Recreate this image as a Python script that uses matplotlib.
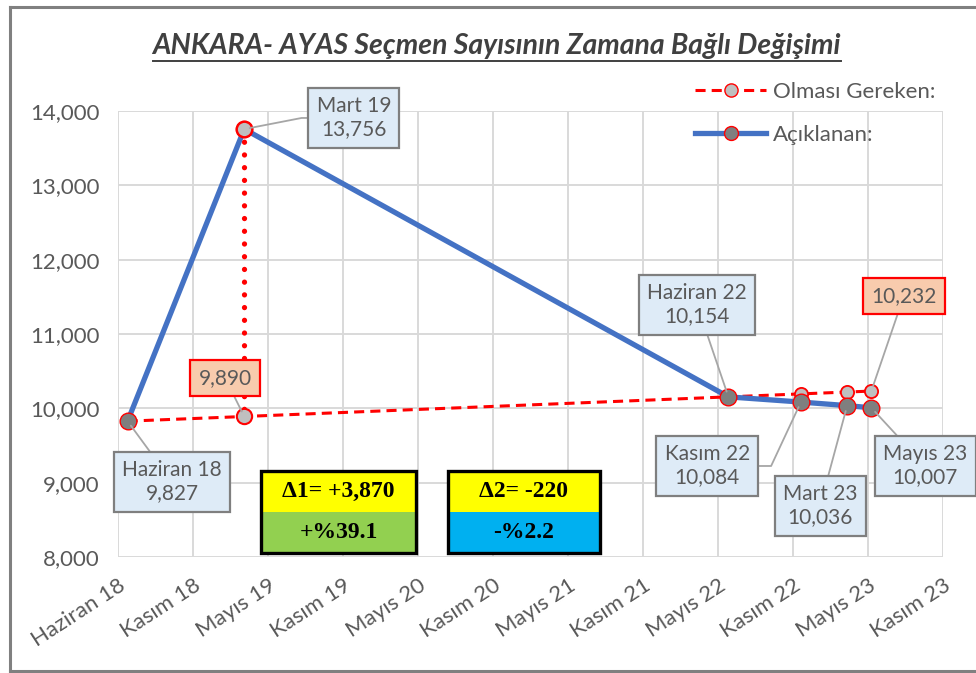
import datetime as dt

import matplotlib
matplotlib.use("Agg")
import matplotlib.dates as mdates
import matplotlib.pyplot as plt
from matplotlib.lines import Line2D
from matplotlib.patches import Rectangle

# ---- data -------------------------------------------------------------
dates = ["2018-06-24", "2019-03-31", "2022-06-05", "2022-11-26", "2023-03-17", "2023-05-14"]
point_names = ["Haziran 18", "Mart 19", "Haziran 22", "Kasım 22", "Mart 23", "Mayıs 23"]
announced = [9827, 13756, 10154, 10084, 10036, 10007]
expected = [9827, 9890, 10154, 10194, 10219, 10232]

tick_labels = ["Haziran 18", "Kasım 18", "Mayıs 19", "Kasım 19", "Mayıs 20", "Kasım 20",
               "Mayıs 21", "Kasım 21", "Mayıs 22", "Kasım 22", "Mayıs 23", "Kasım 23"]
y_ticks = [8000, 9000, 10000, 11000, 12000, 13000, 14000]

delta_top = ["Δ1= +3,870", "Δ2= -220"]
delta_bottom = ["+%39.1", "-%2.2"]

# ---- styling ----------------------------------------------------------
FONT = "Lato"
GREY_TXT = "#595959"
BLUE = "#4472C4"
RED = "#FF0000"
GRID = "#D9D9D9"

plt.rcParams["font.family"] = [FONT, "DejaVu Sans"]

axis_start = dt.date(2018, 6, 1)
x0 = mdates.date2num(axis_start)
xs = [mdates.date2num(dt.date.fromisoformat(d)) for d in dates]

fig = plt.figure(figsize=(9.76, 6.73), dpi=100)
ax = fig.add_axes([0.1209, 0.1724, 0.8453, 0.6627])

ax.set_xlim(x0, x0 + 180 * (len(tick_labels) - 1))
ax.set_ylim(y_ticks[0], y_ticks[-1])
ax.set_xticks([x0 + 180 * i for i in range(len(tick_labels))])
ax.set_xticklabels(tick_labels, rotation=33, ha="right", va="top",
                   rotation_mode="anchor", fontsize=16, color=GREY_TXT)
ax.set_yticks(y_ticks)
ax.set_yticklabels([f"{v:,}" for v in y_ticks], fontsize=16, color=GREY_TXT)
ax.tick_params(length=0)
ax.tick_params(axis="y", pad=13)
ax.tick_params(axis="x", pad=13)
ax.grid(True, color=GRID, linewidth=1.4, zorder=0)
ax.set_axisbelow(True)
for s in ax.spines.values():
    s.set_visible(False)

# expected (red dashed)
ax.plot(xs, expected, color=RED, linewidth=2.2, linestyle=(0, (3.3, 2.0)),
        marker="o", markersize=9.5, markerfacecolor="#BFBFBF",
        markeredgecolor=RED, markeredgewidth=1.3, zorder=3)
# announced (blue)
ax.plot(xs, announced, color=BLUE, linewidth=3.8, solid_capstyle="round",
        marker="o", markersize=12, markerfacecolor="#7F7F7F",
        markeredgecolor=RED, markeredgewidth=1.0, zorder=4)
# vertical gap at Mart 19
ax.plot([xs[1], xs[1]], [announced[1], expected[1]], color=RED, linewidth=3.8,
        linestyle=(0, (0.01, 2.4)), dash_capstyle="round",
        marker="o", markersize=11, markerfacecolor="#BFBFBF",
        markeredgecolor=RED, markeredgewidth=1.5, zorder=5)

# ---- callouts ---------------------------------------------------------
blue_box = dict(boxstyle="square,pad=0.4", fc="#DEEBF7", ec="#7F7F7F", lw=1.6)
red_box = dict(boxstyle="square,pad=0.4", fc="#F8CBAD", ec=RED, lw=1.6)

blue_pos = [(130, 9009), (566, 13906), (1390, 11390), (1414, 9224), (1685, 8686), (1937, 9224)]
# bent leaders for two of the callouts
bends = {1: ((0, 0.5), "angle,angleA=180,angleB=11,rad=0"),
         3: ((1, 0.5), "angle,angleA=0,angleB=245,rad=0")}
for i, (dx, yv) in enumerate(blue_pos):
    leader = dict(arrowstyle="-", color="#A6A6A6", lw=1.3, shrinkA=0, shrinkB=4)
    if i in bends:
        leader["relpos"], leader["connectionstyle"] = bends[i]
    ax.annotate(f"{point_names[i]}\n{announced[i]:,}", xy=(xs[i], announced[i]),
                xytext=(x0 + dx, yv), ha="center", va="center", fontsize=15,
                color=GREY_TXT, linespacing=1.2, bbox=blue_box,
                arrowprops=leader, annotation_clip=False, zorder=6)

red_pos = {1: (257, 10408), 5: (1886, 11511)}
for i, (dx, yv) in red_pos.items():
    leader = dict(arrowstyle="-", color="#A6A6A6", lw=1.3, shrinkA=0, shrinkB=4)
    ax.annotate(f"{expected[i]:,}", xy=(xs[i], expected[i]),
                xytext=(x0 + dx, yv), ha="center", va="center", fontsize=15,
                color=GREY_TXT, bbox=red_box, arrowprops=leader,
                annotation_clip=False, zorder=6)

# ---- delta boxes ------------------------------------------------------
box_x = [(0.1733, 0.3612), (0.400, 0.584)]
bottom_colors = ["#92D050", "#00B0F0"]
y_lo, y_mid, y_hi = 0.009, 0.101, 0.193
for (l, r), top_t, bot_t, bc in zip(box_x, delta_top, delta_bottom, bottom_colors):
    ax.add_patch(Rectangle((l, y_mid), r - l, y_hi - y_mid, transform=ax.transAxes,
                           fc="#FFFF00", ec="none", zorder=7))
    ax.add_patch(Rectangle((l, y_lo), r - l, y_mid - y_lo, transform=ax.transAxes,
                           fc=bc, ec="none", zorder=7))
    ax.add_patch(Rectangle((l, y_lo), r - l, y_hi - y_lo, transform=ax.transAxes,
                           fc="none", ec="black", lw=2.4, zorder=8))
    cx = (l + r) / 2
    ax.text(cx, (y_mid + y_hi) / 2, top_t, transform=ax.transAxes, ha="center",
            va="center", fontsize=17, fontweight="bold", family="Liberation Serif",
            zorder=9)
    ax.text(cx, (y_lo + y_mid) / 2, bot_t, transform=ax.transAxes, ha="center",
            va="center", fontsize=17, fontweight="bold", family="Liberation Serif",
            zorder=9)

# ---- legend -----------------------------------------------------------
handles = [
    Line2D([], [], color=RED, linewidth=2.2, linestyle=(0, (3.3, 2.0)), marker="o",
           markersize=9.5, markerfacecolor="#BFBFBF", markeredgecolor=RED),
    Line2D([], [], color=BLUE, linewidth=3.8, marker="o", markersize=10,
           markerfacecolor="#7F7F7F", markeredgecolor=RED),
]
fig.legend(handles, ["Olması Gereken:", "Açıklanan:"], loc="upper left",
           bbox_to_anchor=(0.701, 0.895), frameon=False, fontsize=16,
           labelcolor=GREY_TXT, handlelength=3.2, handletextpad=0.3,
           labelspacing=1.05, borderpad=0)

# ---- title ------------------------------------------------------------
title = fig.text(0.509, 0.932, "ANKARA- AYAS Seçmen Sayısının Zamana Bağlı Değişimi",
                 ha="center", va="center", fontsize=20.4, fontweight="bold",
                 style="italic", color="#404040")

# outer frame
frame_kw = dict(color="#808080", linewidth=2.2, transform=fig.transFigure)
fig.add_artist(Line2D([10 / 976, 10 / 976], [1 - 7 / 673, 1 - 671 / 673], **frame_kw))
fig.add_artist(Line2D([10 / 976, 1.0], [1 - 7 / 673, 1 - 7 / 673], **frame_kw))
fig.add_artist(Line2D([10 / 976, 1.0], [1 - 671 / 673, 1 - 671 / 673], **frame_kw))

# underline the title
fig.canvas.draw()
bb = title.get_window_extent().transformed(fig.transFigure.inverted())
fig.add_artist(Line2D([bb.x0, bb.x1], [bb.y0 - 0.003, bb.y0 - 0.003],
                      color="#404040", linewidth=1.4, transform=fig.transFigure))

fig.savefig("out.png", dpi=100)
